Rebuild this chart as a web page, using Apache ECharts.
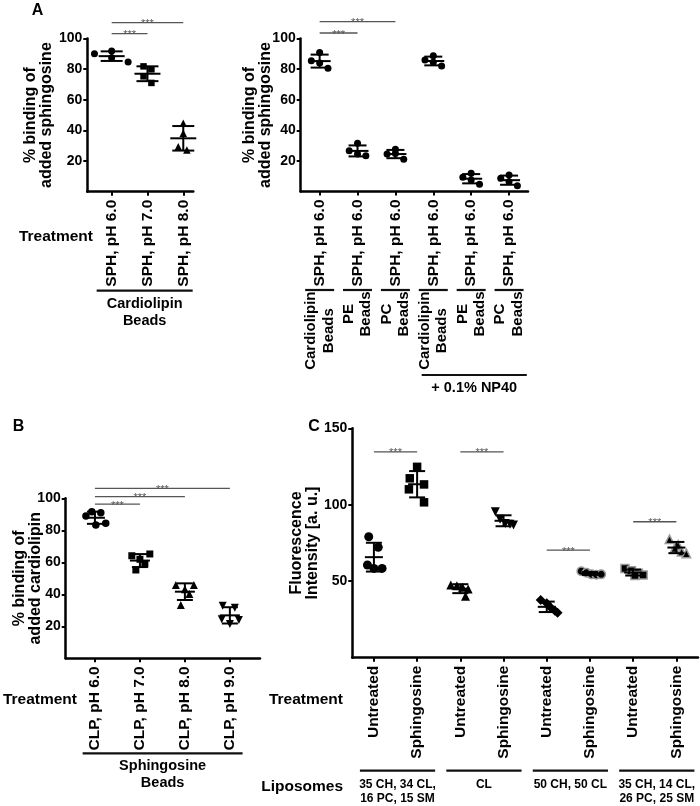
<!DOCTYPE html>
<html><head><meta charset="utf-8">
<script src="https://cdn.jsdelivr.net/npm/echarts@6/dist/echarts.min.js"></script>
<style>html,body{margin:0;padding:0;background:#fff}#c{width:700px;height:806px}</style>
</head><body><div id="c"></div>
<script>
// ================= DATA =================
// Panel A (left): % binding of added sphingosine to cardiolipin beads
const A1_CATS = ['SPH, pH 6.0', 'SPH, pH 7.0', 'SPH, pH 8.0'];
const A1_PH60 = [90.0, 91.8, 87.5, 84.6];
const A1_PH70 = [81.8, 79.9, 75.3, 71.0];
const A1_PH80 = [44.6, 38.1, 29.4, 27.3];
const A1_YTICKS = [20, 40, 60, 80, 100];

// Panel A (right): binding to different beads, +/- NP40
const A2_CATS = ['SPH, pH 6.0', 'SPH, pH 6.0', 'SPH, pH 6.0', 'SPH, pH 6.0', 'SPH, pH 6.0', 'SPH, pH 6.0'];
const A2_GROUPS = ['Cardiolipin\nBeads', 'PE\nBeads', 'PC\nBeads', 'Cardiolipin\nBeads', 'PE\nBeads', 'PC\nBeads'];
const A2_CL = [85.5, 90.8, 84.0, 80.6];
const A2_PE = [26.7, 31.5, 24.5, 23.4];
const A2_PC = [24.5, 27.6, 24.8, 21.0];
const A2_CL_NP40 = [86.0, 88.8, 84.4, 82.0];
const A2_PE_NP40 = [9.3, 11.9, 7.5, 4.7];
const A2_PC_NP40 = [8.6, 10.8, 6.4, 3.8];
const A2_YTICKS = [20, 40, 60, 80, 100];

// Panel B: % binding of added cardiolipin to sphingosine beads
const B_CATS = ['CLP, pH 6.0', 'CLP, pH 7.0', 'CLP, pH 8.0', 'CLP, pH 9.0'];
const B_PH60 = [88.9, 91.6, 91.0, 83.3, 84.4];
const B_PH70 = [64.1, 65.2, 61.9, 59.0, 55.2];
const B_PH80 = [45.8, 45.8, 43.1, 40.2, 33.3];
const B_PH90 = [32.9, 31.6, 24.4, 23.9, 21.4];
const B_YTICKS = [20, 40, 60, 80, 100];

// Panel C: fluorescence intensity of liposomes
const C_CATS = ['Untreated', 'Sphingosine', 'Untreated', 'Sphingosine', 'Untreated', 'Sphingosine', 'Untreated', 'Sphingosine'];
const C_LIPOSOMES = ['35 CH, 34 CL,\n16 PC, 15 SM', 'CL', '50 CH, 50 CL', '35 CH, 14 CL,\n26 PC, 25 SM'];
const C_MIX1_UNT = [79.1, 72.2, 60.6, 58.4, 58.4];
const C_MIX1_SPH = [124.8, 117.3, 113.3, 110.1, 101.6];
const C_CL_UNT = [47.5, 47.0, 46.0, 45.0, 40.2];
const C_CL_SPH = [95.4, 90.5, 87.8, 87.3, 86.7];
const C_CHCL_UNT = [37.7, 35.6, 32.9, 30.7, 29.4];
const C_CHCL_SPH = [56.5, 55.5, 54.5, 54.3, 54.5];
const C_MIX2_UNT = [58.4, 56.9, 55.2, 54.1, 53.8];
const C_MIX2_SPH = [77.4, 73.7, 71.5, 69.3, 68.2];
const C_YTICKS = [50, 100, 150];

// ================= LAYOUT / STYLE =================
const FONT = '"Liberation Sans", Arial, Helvetica, sans-serif';
// horizontal scatter spread of the points (in category units)
const J4 = [-0.22, 0, 0, 0.22];

function mean(a) { return a.reduce((s, v) => s + v, 0) / a.length; }
function sd(a) { const m = mean(a); return Math.sqrt(a.reduce((s, v) => s + (v - m) * (v - m), 0) / (a.length - 1)); }
const measureCtx = document.createElement('canvas').getContext('2d');
function textWidth(t, font) { measureCtx.font = font; return measureCtx.measureText(t).width; }

const panels = [
  { // A left
    grid: { left: 87.3, top: 38.5, width: 106, height: 153.2 },
    xMin: -0.68, xMax: 2.28, yMax: 100, yTicks: A1_YTICKS, cats: A1_CATS,
    yName: '% binding of\nadded sphingosine', nameGap: 33,
    groups: [
      { vals: A1_PH60, jit: [-0.48, 0, 0, 0.46], symbol: 'circle', size: 7 },
      { vals: A1_PH70, jit: [-0.11, 0.11, -0.11, 0.11], symbol: 'rect', size: 6.5 },
      { vals: A1_PH80, jit: [0, 0, -0.14, 0.1], symbol: 'triangle', size: 7.5 }
    ],
    meanHalf: 13, capHalf: 11,
    brackets: [[0, 2, 110.4], [0, 1, 103.2]],
    lines: [{ from: 0, to: 2, padL: 15, padR: 9.4, off: 99, label: 'Cardiolipin\nBeads', rot: false, lh: 17.5, fs: 14.5 }]
  },
  { // A right
    grid: { left: 300.7, top: 38.5, width: 227.3, height: 153 },
    xMin: -0.5, xMax: 5.5, yMax: 100, yTicks: A2_YTICKS, cats: A2_CATS,
    yName: '% binding of\nadded sphingosine', nameGap: 27,
    groups: [
      { vals: A2_CL, jit: J4, symbol: 'circle', size: 7 },
      { vals: A2_PE, jit: J4, symbol: 'circle', size: 7 },
      { vals: A2_PC, jit: J4, symbol: 'circle', size: 7 },
      { vals: A2_CL_NP40, jit: J4, symbol: 'circle', size: 7 },
      { vals: A2_PE_NP40, jit: J4, symbol: 'circle', size: 7 },
      { vals: A2_PC_NP40, jit: J4, symbol: 'circle', size: 7 }
    ],
    meanHalf: 11, capHalf: 9,
    brackets: [[0, 2, 111], [0, 1, 103.6]],
    lines: A2_GROUPS.map((g, i) => ({ from: i, to: i, padL: 14.5, padR: 14.5, off: 98.5, label: g, rot: true, lh: 17.5, fs: 15 }))
      .concat([{ from: 3, to: 5, padL: 11.6, padR: 17.7, off: 183.5, label: '+ 0.1% NP40', rot: false, lh: 17, fs: 14.5 }])
  },
  { // B
    grid: { left: 65.7, top: 498.3, width: 194.3, height: 160 },
    xMin: -0.65, xMax: 3.67, yMax: 100, yTicks: B_YTICKS, cats: B_CATS,
    yName: '% binding of\nadded cardiolipin', nameGap: 22,
    groups: [
      { vals: B_PH60, jit: [-0.2, -0.07, 0.13, 0.02, 0.24], symbol: 'circle', size: 7.5 },
      { vals: B_PH70, jit: [-0.18, 0.22, 0, 0.11, -0.09], symbol: 'rect', size: 7 },
      { vals: B_PH80, jit: [-0.2, 0.2, 0, 0.1, -0.09], symbol: 'triangle', size: 8 },
      { vals: B_PH90, jit: [-0.16, 0.11, -0.18, 0.2, 0], symbol: 'triangle', rot: 180, size: 8 }
    ],
    meanHalf: 10, capHalf: 8,
    brackets: [[0, 3, 106.25], [0, 2, 101], [0, 1, 96.4]],
    lines: [{ from: 0, to: 3, padL: 12.3, padR: 12.7, off: 95, label: 'Sphingosine\nBeads', rot: false, lh: 16.7, fs: 14.5 }]
  },
  { // C
    grid: { left: 352.3, top: 428.3, width: 345.7, height: 229.4 },
    xMin: -0.5, xMax: 7.5, yMax: 150, yTicks: C_YTICKS, cats: C_CATS,
    yName: 'Fluorescence\nIntensity [a. u.]', nameGap: 32,
    groups: [
      { vals: C_MIX1_UNT, jit: [-0.12, 0.1, -0.15, 0, 0.19], symbol: 'circle', size: 9 },
      { vals: C_MIX1_SPH, jit: [0, -0.17, 0.16, -0.19, 0.16], symbol: 'rect', size: 8.5 },
      { vals: C_CL_UNT, jit: [-0.22, -0.08, 0.05, 0.18, 0.12], symbol: 'triangle', size: 9 },
      { vals: C_CL_SPH, jit: [-0.19, -0.08, 0.04, 0.15, 0.23], symbol: 'triangle', rot: 180, size: 9 },
      { vals: C_CHCL_UNT, jit: [-0.14, 0, 0.09, 0.19, 0.25], symbol: 'diamond', size: 10 },
      { vals: C_CHCL_SPH, jit: [-0.2, -0.08, 0.04, 0.15, 0.26], symbol: 'circle', size: 8.5, halo: true },
      { vals: C_MIX2_UNT, jit: [-0.19, -0.04, 0.12, 0.23, 0.04], symbol: 'rect', size: 8, halo: true },
      { vals: C_MIX2_SPH, jit: [-0.16, 0.04, -0.04, 0.12, 0.23], symbol: 'triangle', size: 8.5, halo: true }
    ],
    meanHalf: 9, capHalf: 8,
    brackets: [[0, 1, 134.6], [2, 3, 134.6], [4, 5, 70.4], [6, 7, 88.9]],
    lines: C_LIPOSOMES.map((g, i) => ({ from: 2 * i, to: 2 * i + 1, padL: 14, padR: 18, off: 113, label: g, rot: false, lh: 14.4, fs: 12, top: 6.5 }))
  }
];

const option = { animation: false, grid: [], xAxis: [], yAxis: [], series: [], graphic: [] };

panels.forEach((p, gi) => {
  option.grid.push(Object.assign({ containLabel: false }, p.grid));
  const tickIdx = p.cats.map((c, i) => i);
  option.xAxis.push({
    gridIndex: gi, type: 'value', min: p.xMin, max: p.xMax,
    splitLine: { show: false },
    axisLine: { show: true, onZero: false, lineStyle: { color: '#000', width: 2.5 } },
    axisTick: { show: true, customValues: tickIdx, length: 4, lineStyle: { color: '#000', width: 2 } },
    axisLabel: {
      show: true, customValues: tickIdx, rotate: 90, margin: 8,
      formatter: v => p.cats[Math.round(v)] || '',
      fontSize: 15.5, fontWeight: 'bold', color: '#000', fontFamily: FONT
    }
  });
  option.yAxis.push({
    gridIndex: gi, type: 'value', min: 0, max: p.yMax,
    splitLine: { show: false },
    axisLine: { show: true, onZero: false, lineStyle: { color: '#000', width: 2.5 } },
    axisTick: { show: true, customValues: p.yTicks, length: 4, lineStyle: { color: '#000', width: 2 } },
    axisLabel: { show: true, customValues: p.yTicks, margin: 5, fontSize: 14, fontWeight: 'bold', color: '#000', fontFamily: FONT },
    name: p.yName, nameLocation: 'middle', nameGap: p.nameGap, nameMoveOverlap: false,
    nameTextStyle: { fontSize: 16, fontWeight: 'bold', color: '#000', fontFamily: FONT, lineHeight: 16 }
  });

  // points
  p.groups.forEach((g, k) => {
    option.series.push({
      type: 'scatter', xAxisIndex: gi, yAxisIndex: gi, silent: true, z: 3,
      symbol: g.symbol, symbolSize: g.size, symbolRotate: g.rot || 0,
      itemStyle: { color: '#000', borderColor: g.halo ? '#9a9a9a' : '#000', borderWidth: g.halo ? 1.5 : 0, opacity: 1 },
      data: g.vals.map((v, i) => [k + g.jit[i], v])
    });
  });

  // mean +/- SD
  option.series.push({
    type: 'custom', xAxisIndex: gi, yAxisIndex: gi, silent: true, z: 5, clip: false,
    data: p.groups.map((g, k) => [k, mean(g.vals), sd(g.vals)]),
    renderItem: (params, api) => {
      const x = api.value(0), m = api.value(1), s = api.value(2);
      const c = api.coord([x, m]), t = api.coord([x, m + s]), b = api.coord([x, m - s]);
      const st = { stroke: '#000', lineWidth: 2 };
      return {
        type: 'group', children: [
          { type: 'line', shape: { x1: c[0], y1: t[1], x2: c[0], y2: b[1] }, style: st },
          { type: 'line', shape: { x1: c[0] - p.capHalf, y1: t[1], x2: c[0] + p.capHalf, y2: t[1] }, style: st },
          { type: 'line', shape: { x1: c[0] - p.capHalf, y1: b[1], x2: c[0] + p.capHalf, y2: b[1] }, style: st },
          { type: 'line', shape: { x1: c[0] - p.meanHalf, y1: c[1], x2: c[0] + p.meanHalf, y2: c[1] }, style: st }
        ]
      };
    }
  });

  // significance brackets
  option.series.push({
    type: 'custom', xAxisIndex: gi, yAxisIndex: gi, silent: true, z: 6, clip: false,
    data: p.brackets,
    renderItem: (params, api) => {
      const a = api.coord([api.value(0), api.value(2)]), b = api.coord([api.value(1), api.value(2)]);
      return {
        type: 'group', children: [
          { type: 'line', shape: { x1: a[0], y1: a[1], x2: b[0], y2: b[1] }, style: { stroke: '#555', lineWidth: 1.3 } },
          { type: 'text', x: (a[0] + b[0]) / 2, y: a[1] + 1.5,
            style: { text: '***', fill: '#555', font: '11px ' + FONT, align: 'center', verticalAlign: 'middle', textAlign: 'center', textVerticalAlign: 'middle' } }
        ]
      };
    }
  });

  // group lines & labels below the axis
  option.series.push({
    type: 'custom', xAxisIndex: gi, yAxisIndex: gi, silent: true, z: 6, clip: false,
    data: p.lines.map(l => [l.from, l.to]),
    renderItem: (params, api) => {
      const l = p.lines[params.dataIndex];
      const cs = params.coordSys;
      const x1 = api.coord([api.value(0), 0])[0] - l.padL;
      const x2 = api.coord([api.value(1), 0])[0] + l.padR;
      const y = cs.y + cs.height + l.off;
      const font = 'bold ' + l.fs + 'px ' + FONT;
      const children = [{ type: 'line', shape: { x1: x1, y1: y, x2: x2, y2: y }, style: { stroke: '#111', lineWidth: 2.2 } }];
      if (l.rot) {
        const maxW = Math.max.apply(null, l.label.split('\n').map(s => textWidth(s, font)));
        children.push({ type: 'text', x: (x1 + x2) / 2, y: y + 1.5 + maxW / 2, rotation: Math.PI / 2,
          style: { text: l.label, fill: '#000', font: font, lineHeight: l.lh, align: 'center', verticalAlign: 'middle', textAlign: 'center', textVerticalAlign: 'middle' } });
      } else {
        children.push({ type: 'text', x: (x1 + x2) / 2, y: y + (l.top || 4.5),
          style: { text: l.label, fill: '#000', font: font, lineHeight: l.lh, align: 'center', verticalAlign: 'top', textAlign: 'center', textVerticalAlign: 'top' } });
      }
      return { type: 'group', children: children };
    }
  });
});

// panel letters and row titles
function txt(t, x, y, size, align) {
  return { type: 'text', x: x, y: y, silent: true,
    style: { text: t, fill: '#000', font: 'bold ' + size + 'px ' + FONT, align: align, verticalAlign: 'middle', textAlign: align, textVerticalAlign: 'middle' } };
}
option.graphic = [
  txt('A', 37.5, 10.5, 16, 'center'),
  txt('B', 18.5, 426.5, 16, 'center'),
  txt('C', 314, 426.5, 16, 'center'),
  txt('Treatment', 93, 236.7, 15.5, 'right'),
  txt('Treatment', 77, 700, 15.5, 'right'),
  txt('Treatment', 343, 700, 15.5, 'right'),
  txt('Liposomes', 343, 787, 15.5, 'right')
];

const chart = echarts.init(document.getElementById('c'), null, { renderer: 'canvas' });
chart.setOption(option);
</script></body></html>
